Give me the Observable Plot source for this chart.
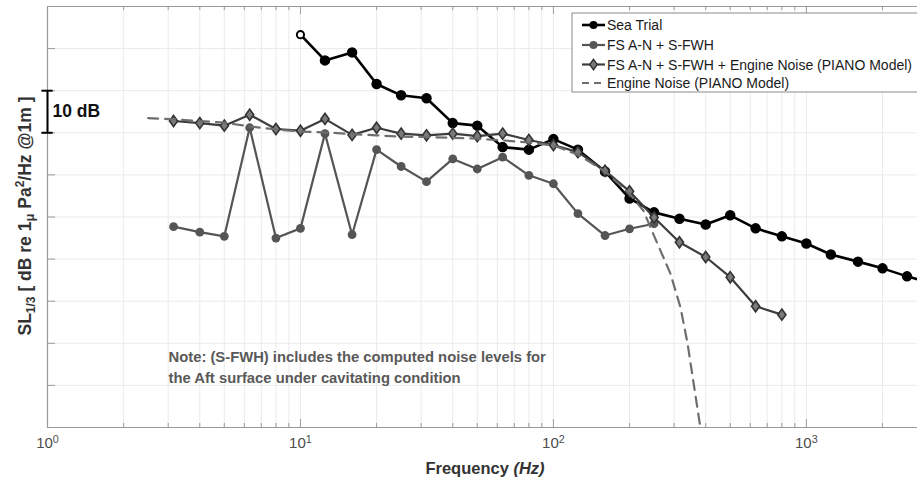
<!DOCTYPE html>
<html><head><meta charset="utf-8">
<script src="https://cdn.jsdelivr.net/npm/d3@7"></script>
<script src="https://cdn.jsdelivr.net/npm/@observablehq/plot@0.6"></script>
<style>html,body{margin:0;padding:0;background:#fff;overflow:hidden}</style>
</head><body><div id="chart"></div>
<script>
// ---- data (relative SL in dB; 10 dB per grid step) ----
const seaTrialFreq = [10,12.5,16,20,25,31.5,40,50,63,80,100,125,160,200,250,315,400,500,630,800,1000,1250,1600,2000,2500,3150];
const seaTrialSL   = [93.3,87.2,89.1,81.6,78.9,78.2,72.3,71.7,66.6,66.0,68.5,66.0,60.8,54.4,51.1,49.6,48.2,50.4,47.3,45.4,43.7,41.1,39.4,37.8,35.9,34.2];

const fsFreq = [3.15,4,5,6.3,8,10,12.5,16,20,25,31.5,40,50,63,80,100,125,160,200,250];
const fsSL   = [47.7,46.4,45.4,71.2,45.0,47.3,69.8,45.8,66.0,62.0,58.4,63.8,61.4,64.2,59.9,57.9,50.8,45.6,47.2,48.4];

const fsEngFreq = [3.15,4,5,6.3,8,10,12.5,16,20,25,31.5,40,50,63,80,100,125,160,200,250,315,400,500,630,800];
const fsEngSL   = [72.8,72.3,71.7,74.3,70.9,70.5,73.3,69.5,71.2,69.8,69.4,69.8,69.2,69.8,68.3,67.1,65.4,61.0,56.1,49.9,44.0,40.5,35.7,28.8,26.8];

const engineFreq = [2.5,3.15,4,5,6.3,8,10,12.5,16,20,25,31.5,40,50,63,80,100,125,160,200,227,250,290,318,339,381,400];
const engineSL   = [73.5,73.2,72.8,72.4,71.5,70.8,70.3,70.1,69.7,69.4,69.1,69.0,68.8,68.6,68.2,67.7,67.0,64.8,60.8,55.5,51.5,45.5,36.6,28.5,20.0,0,-7.8];

const seriesNames = ["Sea Trial","FS A-N + S-FWH","FS A-N + S-FWH + Engine Noise (PIANO Model)","Engine Noise (PIANO Model)"];
const decadeTicks = [1,10,100,1000];
const minorTicks = [2,3,4,5,6,7,8,9,20,30,40,50,60,70,80,90,200,300,400,500,600,700,800,900,2000];
const yGridValues = [0,10,20,30,40,50,60,70,80,90,100];
const bracket = {low: 70, high: 80, label: "10 dB"};
const noteText = "Note: (S-FWH) includes the computed noise levels for\nthe Aft surface under cavitating condition";
const xDomain = [1, 2750];
const yDomain = [0, 100];

const toRows = (f, v) => f.map((d, i) => ({f: d, v: v[i]}));
const sea = toRows(seaTrialFreq, seaTrialSL);
const fs = toRows(fsFreq, fsSL);
const fsEng = toRows(fsEngFreq, fsEngSL);
const eng = toRows(engineFreq, engineSL);

const W = 917, H = 481, mL = 47, mR = 0, mT = 6, mB = 54;
const fW = W - mL - mR, fH = H - mT - mB;
const gridC = "#ebebeb", axisC = "#9a9a9a";
const FONT = "'Liberation Sans', Arial, Helvetica, sans-serif";

const diamondSym = {
  draw(ctx, size) {
    const r = Math.sqrt(size / Math.PI);
    const h = r * 1.3, w = r * 0.95;
    ctx.moveTo(0, -h); ctx.lineTo(w, 0); ctx.lineTo(0, h); ctx.lineTo(-w, 0); ctx.closePath();
  }
};

const chart = Plot.plot({
  width: W, height: H,
  marginLeft: mL, marginRight: mR, marginTop: mT, marginBottom: mB,
  x: {type: "log", domain: xDomain},
  y: {domain: yDomain, axis: null},
  style: {fontFamily: FONT, background: "#fff", overflow: "hidden"},
  marks: [
    Plot.ruleX(decadeTicks.concat(minorTicks), {stroke: gridC, strokeWidth: 1}),
    Plot.ruleY(yGridValues, {stroke: gridC, strokeWidth: 1}),
    // inward ticks
    Plot.ruleX(minorTicks, {stroke: axisC, insetTop: fH - 4}),
    Plot.ruleX(decadeTicks, {stroke: axisC, insetTop: fH - 8}),
    Plot.ruleX(minorTicks, {stroke: axisC, insetBottom: fH - 4}),
    Plot.ruleX(decadeTicks, {stroke: axisC, insetBottom: fH - 8}),
    Plot.ruleY(yGridValues, {stroke: axisC, insetRight: fW - 8}),
    // frame lines
    Plot.ruleX([xDomain[0]], {stroke: axisC, strokeWidth: 1.2}),
    Plot.ruleY([yDomain[0]], {stroke: axisC, strokeWidth: 1.2}),
    Plot.ruleY([yDomain[1]], {stroke: axisC, strokeWidth: 1.2}),
    Plot.axisX(decadeTicks, {tickSize: 0, tickPadding: 10, fontSize: 15, fill: "#4d4d4d", label: null,
      tickFormat: d => "10^" + Math.round(Math.log10(d))}),
    // series
    Plot.line(sea, {x: "f", y: "v", stroke: "#000", strokeWidth: 2.6, clip: true}),
    Plot.dot(sea.slice(1), {x: "f", y: "v", r: 4.5, fill: "#000", stroke: "#000", clip: true}),
    Plot.dot(sea.slice(0, 1), {x: "f", y: "v", r: 3.6, fill: "#fff", stroke: "#000", strokeWidth: 2, clip: true}),
    Plot.line(fs, {x: "f", y: "v", stroke: "#555", strokeWidth: 2.2, clip: true}),
    Plot.dot(fs, {x: "f", y: "v", r: 4.4, fill: "#555", clip: true}),
    Plot.line(fsEng, {x: "f", y: "v", stroke: "#3d3d3d", strokeWidth: 2.2, clip: true}),
    Plot.dot(fsEng, {x: "f", y: "v", r: 4.3, symbol: diamondSym, fill: "#7a7a7a", stroke: "#333", strokeWidth: 1.6, clip: true}),
    Plot.line(eng, {x: "f", y: "v", stroke: "#6e6e6e", strokeWidth: 2.2, strokeDasharray: "10,7", clip: true}),
    // 10 dB bracket
    Plot.ruleX([xDomain[0]], {y1: bracket.low, y2: bracket.high, stroke: "#000", strokeWidth: 2}),
    Plot.ruleY([bracket.low, bracket.high], {x1: 0.95, x2: 1.052, stroke: "#000", strokeWidth: 2}),
    Plot.text([bracket.label], {x: xDomain[0], y: (bracket.low + bracket.high) / 2, text: d => d, dx: 5, textAnchor: "start",
      fontSize: 17.5, fontWeight: "bold", fill: "#111"}),
    // note
    Plot.text([noteText], {frameAnchor: "bottom-left", text: d => d, dx: 121, dy: -45, lineAnchor: "bottom",
      textAnchor: "start", fontSize: 14.8, fontWeight: "bold", fill: "#595959", lineHeight: 1.36})
  ]
});

document.getElementById("chart").appendChild(chart);
const svg = d3.select(chart);

// superscript tick labels
svg.selectAll('g[aria-label="x-axis tick label"] text').each(function() {
  const t = d3.select(this);
  const parts = t.text().split("^");
  if (parts.length === 2) {
    t.text(parts[0]);
    t.append("tspan").attr("dy", "-0.5em").attr("font-size", "0.72em").text(parts[1]);
  }
});

// y-axis label
const yl = svg.append("text")
  .attr("transform", "translate(31,216) rotate(-90)")
  .attr("text-anchor", "middle").attr("font-weight", "bold").attr("font-size", 17.5)
  .attr("fill", "#333").attr("font-family", FONT);
yl.append("tspan").text("SL");
yl.append("tspan").attr("font-size", "12px").attr("dy", 4).text("1/3");
yl.append("tspan").attr("dy", -4).text(" [ dB re 1");
yl.append("tspan").attr("font-size", "13px").attr("dy", 3).text("\u03bc");
yl.append("tspan").attr("dy", -3).text(" Pa");
yl.append("tspan").attr("font-size", "12px").attr("dy", -7).text("2");
yl.append("tspan").attr("dy", 7).text("/Hz @1m ]");

// x-axis label
const xl = svg.append("text")
  .attr("x", 485).attr("y", 474)
  .attr("text-anchor", "middle").attr("font-weight", "bold").attr("font-size", 16.5)
  .attr("fill", "#333").attr("font-family", FONT);
xl.append("tspan").text("Frequency ");
xl.append("tspan").attr("font-style", "italic").text("(Hz)");

// legend
const lg = svg.append("g").attr("font-family", FONT).attr("text-anchor", "start");
lg.append("rect").attr("x", 572).attr("y", 13).attr("width", 360).attr("height", 79)
  .attr("fill", "#fff").attr("stroke", "#8a8a8a").attr("stroke-width", 1);
const rows = [25, 45, 64.5, 83];
const styles = [
  {stroke: "#000", sw: 2.6, mark: "circle", fill: "#000"},
  {stroke: "#555", sw: 2.2, mark: "circle", fill: "#555"},
  {stroke: "#3d3d3d", sw: 2.2, mark: "diamond", fill: "#7a7a7a"},
  {stroke: "#6e6e6e", sw: 2.2, mark: "none", dash: "7,5"}
];
seriesNames.forEach((name, i) => {
  const y = rows[i], s = styles[i];
  const ln = lg.append("line").attr("x1", 582).attr("x2", 605).attr("y1", y).attr("y2", y)
    .attr("stroke", s.stroke).attr("stroke-width", s.sw);
  if (s.dash) ln.attr("stroke-dasharray", s.dash);
  if (s.mark === "circle") lg.append("circle").attr("cx", 593.5).attr("cy", y).attr("r", 4).attr("fill", s.fill);
  if (s.mark === "diamond") lg.append("path").attr("d", d3.symbol(diamondSym, Math.PI * 16)()).attr("transform", `translate(593.5,${y})`)
    .attr("fill", s.fill).attr("stroke", "#333").attr("stroke-width", 1.4);
  lg.append("text").attr("x", 607).attr("y", y).attr("dy", "0.36em").attr("text-anchor", "start")
    .attr("font-size", 14).attr("fill", "#1a1a1a").text(name);
});
</script>
</body></html>
